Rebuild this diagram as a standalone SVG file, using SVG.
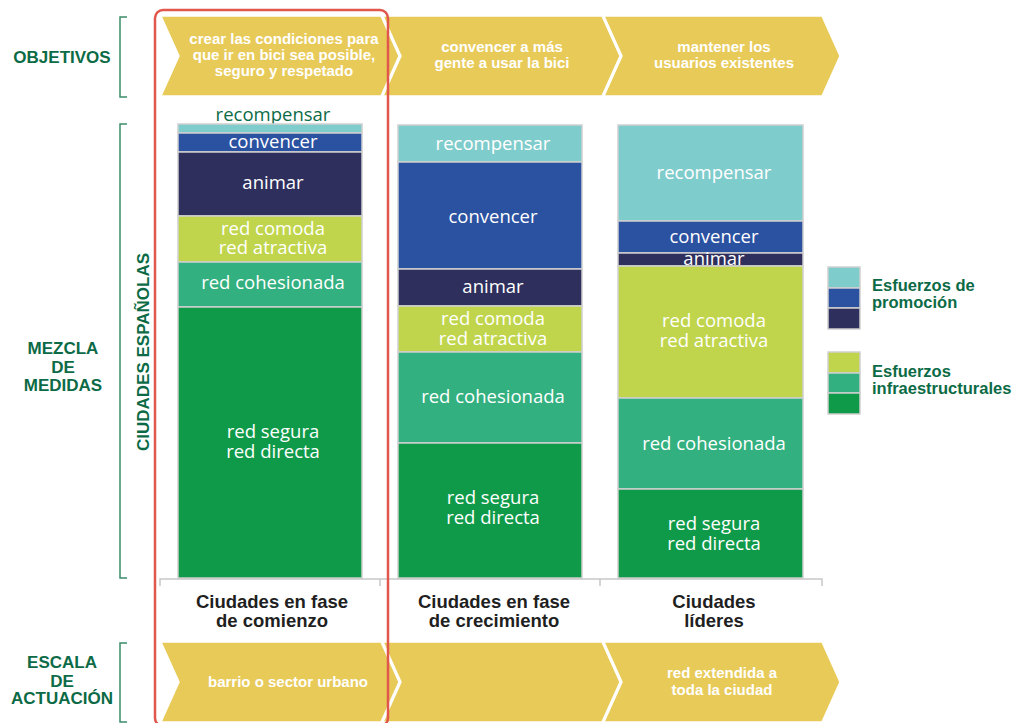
<svg xmlns="http://www.w3.org/2000/svg" width="1014" height="723" viewBox="0 0 1014 723">
<style>
.chev{fill:#e8ca58;stroke:#ffffff;stroke-width:1.5}
.ct{font-family:"Liberation Sans",Arial,sans-serif;font-weight:bold;font-size:15px;fill:#ffffff;text-anchor:middle}
.lab{font-family:"Liberation Sans",Arial,sans-serif;font-weight:bold;font-size:17px;fill:#0c6b46;text-anchor:middle}
.br{fill:none;stroke:#3d8c68;stroke-width:1.5}
.seg{stroke:#cfcfcf;stroke-width:1.5}
.bt{font-family:"Open Sans","Liberation Sans",sans-serif;font-size:18.5px;fill:#ffffff;text-anchor:middle}
.col{font-family:"Liberation Sans",Arial,sans-serif;font-weight:bold;font-size:18.5px;fill:#1f1f1f;text-anchor:middle}
.leg{font-family:"Liberation Sans",Arial,sans-serif;font-weight:bold;font-size:16.5px;fill:#0c6b46}
.c1{fill:#7fcccc}.c2{fill:#2b51a1}.c3{fill:#2e2f5d}.c4{fill:#c0d54b}.c5{fill:#33b07f}.c6{fill:#0f9a4a}
.ax{stroke:#c8c8c8;stroke-width:1.5;fill:none}
</style>

<g id="labels-left">
<text class="lab" x="62" y="63">OBJETIVOS</text>
<polyline class="br" points="127,17 120,17 120,97 127,97"/>
<text class="lab" x="63" y="354">MEZCLA</text>
<text class="lab" x="63" y="373">DE</text>
<text class="lab" x="63" y="391">MEDIDAS</text>
<polyline class="br" points="127,124 120,124 120,578 127,578"/>
<text class="lab" x="62" y="668">ESCALA</text>
<text class="lab" x="62" y="687">DE</text>
<text class="lab" x="62" y="704">ACTUACIÓN</text>
<polyline class="br" points="127,643 120,643 120,722 127,722"/>
<text class="lab" transform="translate(149,352) rotate(-90)" x="0" y="0">CIUDADES ESPAÑOLAS</text>
</g>

<g id="objetivos">
<g id="obj1">
<polygon class="chev" points="161,16 381,16 399,56 381,96 161,96 179,56"/>
<text class="ct" x="284" y="44">crear las condiciones para</text>
<text class="ct" x="284" y="60">que ir en bici sea posible,</text>
<text class="ct" x="284" y="76">seguro y respetado</text>
</g>
<g id="obj2">
<polygon class="chev" points="383,16 602,16 620,56 602,96 383,96 401,56"/>
<text class="ct" x="502" y="52">convencer a más</text>
<text class="ct" x="502" y="68">gente a usar la bici</text>
</g>
<g id="obj3">
<polygon class="chev" points="604,16 822,16 840,56 822,96 604,96 622,56"/>
<text class="ct" x="724" y="52">mantener los</text>
<text class="ct" x="724" y="68">usuarios existentes</text>
</g>
</g>

<g id="escala">
<g id="esc1">
<polygon class="chev" points="161,642 381,642 399,682 381,722 161,722 179,682"/>
<text class="ct" x="288" y="687">barrio o sector urbano</text>
</g>
<g id="esc2">
<polygon class="chev" points="383,642 602,642 620,682 602,722 383,722 401,682"/>
</g>
<g id="esc3">
<polygon class="chev" points="604,642 822,642 840,682 822,722 604,722 622,682"/>
<text class="ct" x="722" y="678">red extendida a</text>
<text class="ct" x="722" y="695">toda la ciudad</text>
</g>
</g>

<g id="bar1">
<text class="bt" x="273" y="121" style="fill:#0c6b46">recompensar</text>
<rect class="seg c1" x="178" y="124" width="184" height="9"/>
<rect class="seg c2" x="178" y="133" width="184" height="19"/>
<rect class="seg c3" x="178" y="152" width="184" height="64"/>
<rect class="seg c4" x="178" y="216" width="184" height="46"/>
<rect class="seg c5" x="178" y="262" width="184" height="45"/>
<rect class="seg c6" x="178" y="307" width="184" height="271"/>
<text class="bt" x="273" y="148">convencer</text>
<text class="bt" x="273" y="189">animar</text>
<text class="bt" x="273" y="235">red comoda</text>
<text class="bt" x="273" y="254">red atractiva</text>
<text class="bt" x="273" y="289">red cohesionada</text>
<text class="bt" x="273" y="438">red segura</text>
<text class="bt" x="273" y="458">red directa</text>
</g>

<g id="bar2">
<rect class="seg c1" x="398" y="125" width="184" height="37"/>
<rect class="seg c2" x="398" y="162" width="184" height="107"/>
<rect class="seg c3" x="398" y="269" width="184" height="37"/>
<rect class="seg c4" x="398" y="306" width="184" height="46"/>
<rect class="seg c5" x="398" y="352" width="184" height="91"/>
<rect class="seg c6" x="398" y="443" width="184" height="135"/>
<text class="bt" x="493" y="150">recompensar</text>
<text class="bt" x="493" y="223">convencer</text>
<text class="bt" x="493" y="293">animar</text>
<text class="bt" x="493" y="325">red comoda</text>
<text class="bt" x="493" y="345">red atractiva</text>
<text class="bt" x="493" y="403">red cohesionada</text>
<text class="bt" x="493" y="504">red segura</text>
<text class="bt" x="493" y="524">red directa</text>
</g>

<g id="bar3">
<rect class="seg c1" x="618" y="125" width="185" height="96"/>
<rect class="seg c2" x="618" y="221" width="185" height="32"/>
<rect class="seg c3" x="618" y="253" width="185" height="13"/>
<rect class="seg c4" x="618" y="266" width="185" height="132"/>
<rect class="seg c5" x="618" y="398" width="185" height="91"/>
<rect class="seg c6" x="618" y="489" width="185" height="89"/>
<text class="bt" x="714" y="179">recompensar</text>
<text class="bt" x="714" y="243">convencer</text>
<text class="bt" x="714" y="265">animar</text>
<text class="bt" x="714" y="327">red comoda</text>
<text class="bt" x="714" y="347">red atractiva</text>
<text class="bt" x="714" y="450">red cohesionada</text>
<text class="bt" x="714" y="530">red segura</text>
<text class="bt" x="714" y="550">red directa</text>
</g>

<g id="axis">
<path class="ax" d="M160,586 V579 H822 V586 M380,579 V586 M600,579 V586"/>
<text class="col" x="272" y="608">Ciudades en fase</text>
<text class="col" x="272" y="627">de comienzo</text>
<text class="col" x="494" y="608">Ciudades en fase</text>
<text class="col" x="494" y="627">de crecimiento</text>
<text class="col" x="714" y="608">Ciudades</text>
<text class="col" x="714" y="627">líderes</text>
</g>

<g id="legend">
<rect class="seg c1" x="828" y="267" width="32" height="21"/>
<rect class="seg c2" x="828" y="288" width="32" height="20"/>
<rect class="seg c3" x="828" y="308" width="32" height="21"/>
<text class="leg" x="872" y="291">Esfuerzos de</text>
<text class="leg" x="872" y="308">promoción</text>
<rect class="seg c4" x="828" y="352" width="32" height="21"/>
<rect class="seg c5" x="828" y="373" width="32" height="20"/>
<rect class="seg c6" x="828" y="393" width="32" height="21"/>
<text class="leg" x="872" y="377">Esfuerzos</text>
<text class="leg" x="872" y="394">infraestructurales</text>
</g>

<g id="highlight">
<rect x="155" y="10" width="233" height="716" rx="8" fill="none" stroke="#e2574c" stroke-width="2.5"/>
</g>
</svg>
